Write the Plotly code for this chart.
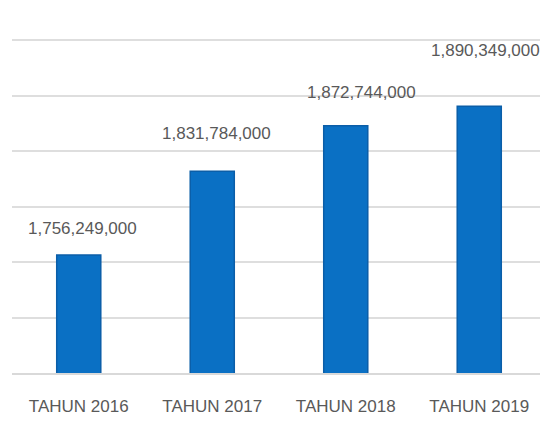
import plotly.graph_objects as go

categories = ["TAHUN 2016", "TAHUN 2017", "TAHUN 2018", "TAHUN 2019"]
values = [1756249000, 1831784000, 1872744000, 1890349000]
value_labels = ["1,756,249,000", "1,831,784,000", "1,872,744,000", "1,890,349,000"]
label_shift = [27, 38, 33, 56]
label_xshift = [4, 4, 16, 6]

fig = go.Figure()
fig.add_trace(go.Bar(
    x=categories, y=values,
    marker=dict(color="#0a70c4", line=dict(color="#0b5ea8", width=1.5)),
    hoverinfo="skip",
))
for c, v, t, s, xs in zip(categories, values, value_labels, label_shift, label_xshift):
    fig.add_annotation(x=c, y=v, text=t, showarrow=False, yshift=s, xshift=xs,
                       font=dict(family="Liberation Sans, Arial", size=17, color="#595959"))

fig.update_layout(
    width=548, height=421,
    margin=dict(l=4, r=10, t=31, b=56),
    paper_bgcolor="white", plot_bgcolor="white",
    bargap=0.67, showlegend=False,
    xaxis=dict(showgrid=False, showline=True, linecolor="#d9d9d9", linewidth=1.5,
               ticks="", ticklabelstandoff=17,
               tickfont=dict(family="Liberation Sans, Arial", size=17, color="#595959")),
    yaxis=dict(range=[1650000000, 1951000000], dtick=50000000, showticklabels=False,
               showgrid=True, gridcolor="#dedede", gridwidth=2, zeroline=False),
)
fig.write_html("out.html")
